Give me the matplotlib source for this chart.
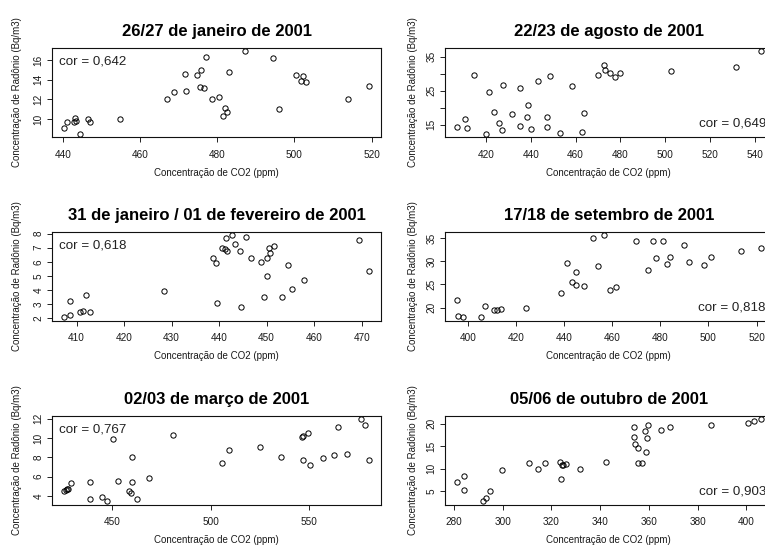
import matplotlib
matplotlib.use("Agg")
import matplotlib.pyplot as plt
from matplotlib.transforms import offset_copy

plt.rcParams['font.family'] = ['Liberation Sans', 'DejaVu Sans']

# ---------------- data ----------------
titles = ["26/27 de janeiro de 2001", "22/23 de agosto de 2001",
          "31 de janeiro / 01 de fevereiro de 2001", "17/18 de setembro de 2001",
          "02/03 de março de 2001", "05/06 de outubro de 2001"]
cor_labels = ["cor = 0,642", "cor = 0,649", "cor = 0,618", "cor = 0,818",
              "cor = 0,767", "cor = 0,903"]

co2_jan2627 = [440.2, 441.0, 442.9, 442.7, 443.2, 444.2, 446.4, 446.8, 454.7, 466.9,
               468.7, 471.6, 471.9, 474.8, 475.8, 475.5, 476.4, 477.0, 478.6, 480.3,
               481.4, 482.0, 482.5, 482.9, 487.2, 494.4, 496.0, 500.4, 501.6, 502.3,
               503.0, 513.8, 519.3]
rn_jan2627 = [9.12, 9.66, 10.14, 9.73, 9.80, 8.50, 10.0, 9.70, 10.0, 12.03,
              12.7, 14.54, 12.85, 14.47, 15.0, 13.2, 13.19, 16.34, 12.07, 12.27,
              10.34, 11.08, 10.68, 14.81, 16.88, 16.2, 11.02, 14.47, 13.86, 14.4,
              13.8, 12.03, 13.39]

co2_ago = [406.9, 410.5, 411.4, 414.5, 420.0, 421.5, 423.7, 425.9, 427.3, 427.6,
           431.7, 435.2, 435.2, 438.3, 438.9, 440.2, 443.2, 447.1, 447.4, 448.4,
           453.0, 458.5, 462.7, 463.6, 470.1, 472.6, 473.2, 475.3, 477.4, 479.8,
           502.8, 531.7, 542.7]
rn_ago = [14.3, 16.8, 14.0, 29.5, 12.35, 24.6, 18.6, 15.6, 13.4, 26.8,
          18.1, 14.7, 25.7, 17.35, 20.9, 13.6, 27.8, 17.35, 14.4, 29.2,
          12.45, 26.5, 12.75, 18.3, 29.5, 32.45, 31.1, 30.3, 28.9, 30.1,
          30.7, 32.1, 36.6]

co2_jan31 = [407.4, 408.7, 408.6, 410.8, 411.3, 412.0, 412.9, 428.3, 438.8, 439.3,
             439.6, 440.6, 441.4, 441.3, 441.6, 442.7, 443.4, 444.4, 444.6, 445.6,
             446.8, 448.9, 449.4, 450.1, 450.1, 450.4, 450.8, 451.5, 453.2, 454.4,
             455.3, 457.8, 469.5, 471.5]
rn_jan31 = [2.05, 2.21, 3.18, 2.45, 2.47, 3.60, 2.42, 3.90, 6.28, 5.88,
            3.08, 7.01, 7.72, 6.89, 6.75, 7.88, 7.27, 6.73, 2.78, 7.76,
            6.26, 6.00, 3.46, 6.26, 5.01, 7.01, 6.61, 7.10, 3.46, 5.74,
            4.07, 4.70, 7.53, 5.32]

co2_set = [395.1, 395.8, 397.9, 405.3, 406.9, 410.8, 412.1, 413.6, 424.0, 438.6,
           441.1, 443.0, 444.7, 444.7, 448.1, 452.0, 454.1, 456.6, 459.1, 461.6,
           469.9, 474.6, 477.0, 478.2, 480.9, 482.7, 483.8, 489.6, 491.7, 498.3,
           501.2, 513.7, 521.8]
rn_set = [21.7, 18.1, 17.9, 17.9, 20.3, 19.5, 19.5, 19.6, 20.0, 23.1,
          29.6, 25.6, 24.9, 27.7, 24.7, 35.1, 28.9, 35.6, 23.7, 24.4,
          34.4, 28.1, 34.4, 30.7, 34.3, 29.5, 30.9, 33.4, 29.9, 29.1,
          30.9, 32.1, 32.9]

co2_mar = [425.5, 426.3, 427.0, 427.6, 429.0, 438.6, 438.6, 444.9, 447.5, 450.5,
           452.8, 458.4, 459.4, 459.8, 460.1, 462.5, 468.6, 480.6, 505.5, 509.5,
           524.9, 536.0, 546.5, 547.0, 547.1, 549.7, 550.7, 557.1, 562.8, 564.8,
           569.4, 576.5, 578.3, 580.4]
rn_mar = [4.55, 4.62, 4.72, 4.68, 5.31, 5.44, 3.72, 3.87, 3.45, 9.88,
          5.58, 4.48, 4.28, 5.44, 8.05, 3.72, 5.89, 10.32, 7.37, 8.78,
          9.05, 8.02, 10.08, 10.19, 7.71, 10.5, 7.23, 7.92, 8.19, 11.18,
          8.36, 11.94, 11.39, 7.71]

co2_out = [281.1, 284.0, 284.0, 291.8, 293.3, 294.6, 299.7, 310.7, 314.4, 317.4,
           323.9, 323.7, 324.2, 324.6, 325.8, 331.7, 342.4, 353.7, 354.0, 354.3,
           355.6, 355.3, 357.2, 358.2, 358.6, 359.1, 359.8, 364.9, 368.5, 385.4,
           400.7, 403.3, 405.9]
rn_out = [7.07, 8.40, 5.22, 2.78, 3.60, 5.15, 9.66, 11.2, 10.03, 11.28,
          7.81, 11.43, 10.85, 10.76, 10.99, 9.95, 11.5, 16.97, 19.26, 15.5,
          14.68, 11.36, 11.28, 18.45, 13.65, 16.82, 19.63, 18.67, 19.26, 19.63,
          20.15, 20.67, 20.96]

xticks_list = [[440, 460, 480, 500, 520], [420, 440, 460, 480, 500, 520, 540],
               [410, 420, 430, 440, 450, 460, 470], [400, 420, 440, 460, 480, 500, 520],
               [450, 500, 550], [280, 300, 320, 340, 360, 380, 400]]
yticks_list = [[10, 12, 14, 16], [15, 20, 25, 30, 35],
               [2, 3, 4, 5, 6, 7, 8], [20, 25, 30, 35],
               [4, 6, 8, 10, 12], [5, 10, 15, 20]]
ytick_labels = [["10", "12", "14", "16"], ["15", "", "25", "", "35"],
                ["2", "3", "4", "5", "6", "7", "8"], ["20", "25", "30", "35"],
                ["4", "6", "8", "10", "12"], ["5", "10", "15", "20"]]
cor_pos = ["topleft", "bottomright", "topleft", "bottomright", "topleft", "bottomright"]

xs = [co2_jan2627, co2_ago, co2_jan31, co2_set, co2_mar, co2_out]
ys = [rn_jan2627, rn_ago, rn_jan31, rn_set, rn_mar, rn_out]

xlabel = "Concentração de CO2 (ppm)"
ylabel = "Concentração de Radônio (Bq/m3)"

# ---------------- layout ----------------
W, H = 765, 546
fig = plt.figure(figsize=(W / 100, H / 100), dpi=100)
fig.patch.set_facecolor("white")

cols = [(52, 381), (444.5, 773)]
rows = [(48, 137), (232, 320.5), (416, 504.5)]
ylab_off = [35, 32]

txtc = "#1a1a1a"
for i in range(6):
    r, c = divmod(i, 2)
    x0, x1 = cols[c]
    t, b = rows[r]
    ax = fig.add_axes([x0 / W, 1 - b / H, (x1 - x0) / W, (b - t) / H])
    ax.plot(xs[i], ys[i], linestyle="none", marker="o", markersize=3.8,
            markerfacecolor="none", markeredgecolor="black", markeredgewidth=0.7)
    ax.margins(x=0.04, y=0.04)
    ax.set_xticks(xticks_list[i])
    ax.set_yticks(yticks_list[i])
    ax.set_yticklabels(ytick_labels[i])
    for s in ax.spines.values():
        s.set_linewidth(0.8)
        s.set_color("#111111")
    ax.tick_params(axis="both", direction="out", length=3.6, width=0.7,
                   colors="#222222", labelsize=7.2, labelcolor=txtc)
    ax.tick_params(axis="x", pad=5.5)
    ax.tick_params(axis="y", pad=2.4)
    for lab in ax.get_yticklabels():
        lab.set_rotation(90)
        lab.set_va("center")
    # title
    ax.text(0.5, 1.0, titles[i], transform=offset_copy(ax.transAxes, fig=fig, x=0, y=16.5, units="dots"),
            ha="center", va="center", fontsize=12, fontweight="bold", color="black")
    # axis labels
    ax.text(0.5, 0.0, xlabel, transform=offset_copy(ax.transAxes, fig=fig, x=0, y=-35.5, units="dots"),
            ha="center", va="center", fontsize=7, color=txtc)
    ax.text(0.0, 0.5, ylabel, transform=offset_copy(ax.transAxes, fig=fig, x=-ylab_off[c], y=0, units="dots"),
            ha="center", va="center", rotation=90, fontsize=7, color=txtc)
    # correlation text
    if cor_pos[i] == "topleft":
        ax.text(0.0, 1.0, cor_labels[i], transform=offset_copy(ax.transAxes, fig=fig, x=7, y=-14, units="dots"),
                ha="left", va="center", fontsize=9.6, color="#222222")
    else:
        ax.text(1.0, 0.0, cor_labels[i], transform=offset_copy(ax.transAxes, fig=fig, x=-7, y=13.5, units="dots"),
                ha="right", va="center", fontsize=9.6, color="#222222")

fig.savefig("out.png", dpi=100, facecolor="white")
